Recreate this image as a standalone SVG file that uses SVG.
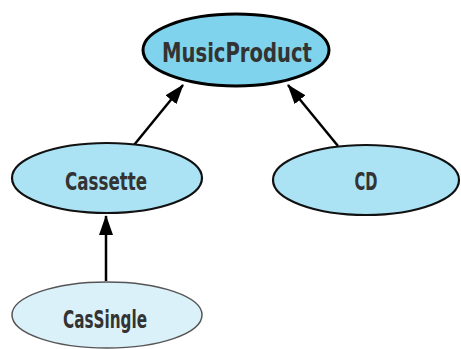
<svg xmlns="http://www.w3.org/2000/svg" width="461" height="349" viewBox="0 0 461 349">
<defs>
<style>
text{font-family:"DejaVu Sans Condensed","DejaVu Sans",sans-serif;font-weight:bold;fill:#333;text-anchor:middle}
.mid{fill:#abe3f4;stroke:#111;stroke-width:2.2}
.edge{stroke:#000;stroke-width:2.5;fill:none;marker-end:url(#ah)}
</style>
<marker id="ah" viewBox="0 0 20 14" refX="19" refY="7" markerWidth="20" markerHeight="14" orient="auto" markerUnits="userSpaceOnUse">
<path d="M0,0 L20,7 L0,14 z" fill="#000"/>
</marker>
</defs>
<g id="edges">
<line class="edge" x1="134" y1="145" x2="183" y2="85"/>
<line class="edge" x1="338" y1="146" x2="288" y2="85"/>
<line class="edge" x1="106" y1="281" x2="106" y2="216"/>
</g>
<g id="MusicProduct">
<ellipse cx="236" cy="50" rx="93" ry="36" fill="#7fd3ec" stroke="#000" stroke-width="3"/>
<text x="237" y="62" font-size="26" textLength="150" lengthAdjust="spacingAndGlyphs">MusicProduct</text>
</g>
<g id="Cassette">
<ellipse class="mid" cx="107" cy="178" rx="95" ry="35"/>
<text x="106" y="190" font-size="25" textLength="82" lengthAdjust="spacingAndGlyphs">Cassette</text>
</g>
<g id="CD">
<ellipse class="mid" cx="366" cy="180" rx="93" ry="35"/>
<text x="366" y="190" font-size="25" textLength="23" lengthAdjust="spacingAndGlyphs">CD</text>
</g>
<g id="CasSingle">
<ellipse cx="107" cy="315" rx="95" ry="33" fill="#dbf1fa" stroke="#555" stroke-width="1.5"/>
<text x="105" y="328" font-size="24" textLength="84" lengthAdjust="spacingAndGlyphs">CasSingle</text>
</g>
</svg>
